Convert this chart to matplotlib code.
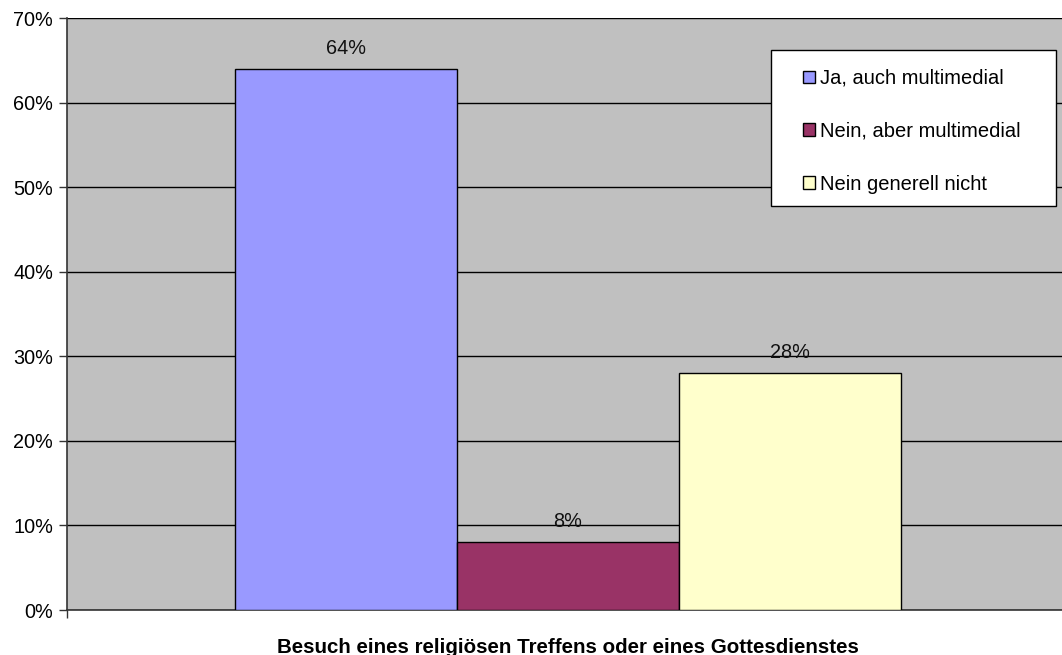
import matplotlib
matplotlib.use("Agg")
import matplotlib.pyplot as plt
from matplotlib.patches import Rectangle
from matplotlib.ticker import PercentFormatter

plt.rcParams['font.family'] = ['Liberation Sans', 'DejaVu Sans']

# data
category = "Besuch eines religiösen Treffens oder eines Gottesdienstes"
series = ["Ja, auch multimedial", "Nein, aber multimedial", "Nein generell nicht"]
values = [64, 8, 28]
colors = ["#9999FF", "#993366", "#FFFFCC"]
y_ticks = [0, 10, 20, 30, 40, 50, 60, 70]

fig = plt.figure(figsize=(10.62, 6.55), dpi=100)
ax = fig.add_axes([67/1062, 45/655, 995/1062, 592/655])
ax.set_facecolor("#C0C0C0")

positions = [-1, 0, 1]
for pos, val, col, lab in zip(positions, values, colors, series):
    ax.bar(pos, val, width=1.0, color=col, edgecolor="black", linewidth=1,
           label=lab, zorder=3)
    ax.annotate(f"{val}%", (pos, val), xytext=(0, 8), textcoords="offset points",
                ha="center", va="bottom", fontsize=14.3, color="#111111")

ax.set_xlim(-2.257, 2.225)
ax.set_ylim(0, 70)
ax.set_yticks(y_ticks)
ax.yaxis.set_major_formatter(PercentFormatter(decimals=0))
ax.tick_params(axis="y", direction="out", length=6, width=1, labelsize=14.3,
               colors="#333333", labelcolor="black", pad=4)
ax.grid(axis="y", color="black", linewidth=1, zorder=1)
ax.set_axisbelow(True)

ax.set_xticks([0])
ax.set_xticklabels([category], fontsize=14.8, fontweight="bold")
ax.tick_params(axis="x", which="major", length=0, pad=20)
ax.set_xticks([-2.257], minor=True)
ax.tick_params(axis="x", which="minor", direction="out", length=6, width=1,
               colors="#333333")

for side in ["top", "right"]:
    ax.spines[side].set_visible(False)
ax.spines["left"].set_color("#333333")
ax.spines["bottom"].set_color("#333333")
ax.spines["left"].set_linewidth(1.2)
ax.spines["bottom"].set_linewidth(1.2)

# legend box (white frame) and its entries
frame = Rectangle((771/1062, 1 - 206/655), 285/1062, 156/655,
                  transform=fig.transFigure, facecolor="white",
                  edgecolor="black", linewidth=1, zorder=4, clip_on=False)
ax.add_artist(frame)
leg = ax.legend(loc="upper left", bbox_to_anchor=(803/1062, 1 - 69/655),
                bbox_transform=fig.transFigure, borderaxespad=0, borderpad=0,
                fontsize=14.5, frameon=False, handlelength=0.6,
                handleheight=0.6, handletextpad=0.25, labelspacing=1.68)
leg.set_zorder(5)
for h in leg.legend_handles:
    h.set_linewidth(1)

fig.savefig("out.png", dpi=100)
